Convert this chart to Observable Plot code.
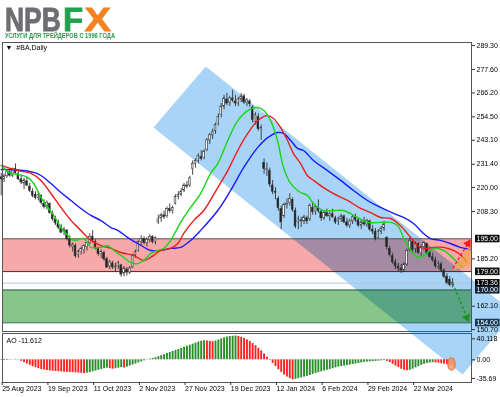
<!DOCTYPE html>
<html><head><meta charset="utf-8">
<script src="https://cdn.jsdelivr.net/npm/d3@7"></script>
<script src="https://cdn.jsdelivr.net/npm/@observablehq/plot@0.6"></script>
<style>
body{margin:0;background:#fff;}
#wrap{position:relative;width:500px;height:397px;overflow:hidden;background:#fff;font-family:"Liberation Sans",Arial,sans-serif;}
#logo{position:absolute;left:0;top:0;}
</style></head><body>
<div id="wrap">
<svg id="logo" width="140" height="40" font-family="Liberation Sans, Arial, sans-serif" font-weight="bold">
  <text transform="translate(5,30.5) scale(0.8,1)" font-size="33" fill="#6d6e71" stroke="#6d6e71" stroke-width="0.8">NPB</text>
  <text transform="translate(63,30.5)" font-size="33" fill="#22a14d" stroke="#22a14d" stroke-width="0.8">F</text>
  <text transform="translate(84.5,30.5) scale(1.2,1)" font-size="33" fill="#f58220" stroke="#f58220" stroke-width="0.8">X</text>
  <text x="5" y="37.8" font-size="7" fill="#22a14d" textLength="110" lengthAdjust="spacingAndGlyphs">УСЛУГИ ДЛЯ ТРЕЙДЕРОВ С 1996 ГОДА</text>
</svg>
</div>
<script>
// ---- x axis (bar index) ticks ----
const tickIdx = [0,16,32,48,64,80,96,112,128,144];
const tickLabels = ["25 Aug 2023","19 Sep 2023","11 Oct 2023","2 Nov 2023","27 Nov 2023","19 Dec 2023","12 Jan 2024","6 Feb 2024","29 Feb 2024","22 Mar 2024"];

// ---- daily OHLC (#BA) ----
const open = [225.0,224.0,225.5,227.5,225.8,229.0,226.5,224.0,222.0,223.0,220.5,218.0,216.5,215.0,216.0,212.0,210.5,212.0,207.0,204.5,202.5,200.5,198.5,199.0,195.0,191.0,191.5,187.0,188.5,189.5,191.0,193.0,196.0,193.5,190.5,187.5,188.0,185.0,181.5,183.0,181.0,181.5,182.0,178.0,180.0,178.5,181.0,187.0,189.0,193.5,195.0,193.0,194.5,196.0,193.5,203.0,205.0,206.5,206.0,209.5,208.5,212.0,215.5,216.5,218.5,221.0,221.0,229.0,231.5,233.0,235.0,234.5,238.5,243.0,245.5,247.5,251.0,255.5,259.5,263.0,261.5,263.5,262.0,261.0,263.0,264.5,261.5,262.0,259.0,252.0,254.5,248.5,232.0,228.5,228.0,221.0,218.0,214.5,209.5,206.0,211.5,212.5,214.0,208.5,203.0,204.0,203.5,205.0,204.5,210.0,208.0,210.0,208.0,205.0,207.5,206.0,207.0,205.0,203.5,204.5,206.0,203.0,201.5,203.5,205.5,204.0,201.5,203.0,202.0,203.5,199.5,198.5,195.5,198.5,200.0,195.5,190.0,186.5,183.5,181.5,180.5,179.5,182.5,189.5,193.5,190.0,192.5,188.0,191.0,192.5,188.0,186.0,184.5,181.5,182.5,179.5,176.5,175.0,172.5];
const high = [227.0,226.5,228.0,229.0,229.5,231.5,228.0,226.0,224.5,225.0,222.0,219.5,218.0,217.5,216.5,214.0,213.5,212.5,208.5,206.0,204.0,202.0,200.5,199.5,196.5,193.0,192.5,189.5,191.0,192.0,193.5,197.5,199.0,194.5,191.0,189.5,189.0,186.0,184.5,184.0,183.0,184.0,182.5,181.5,181.0,181.5,187.5,189.5,194.0,196.5,196.0,195.5,197.0,196.5,196.0,206.5,207.5,208.5,210.5,212.0,211.0,216.5,218.0,219.5,222.0,223.0,225.5,233.0,234.0,236.5,238.0,238.5,244.0,246.5,248.5,251.5,256.0,261.0,265.0,266.0,264.5,267.5,265.0,264.0,266.0,265.5,263.5,263.0,260.0,256.5,256.0,250.5,234.0,232.0,229.5,223.5,220.0,215.5,211.0,212.5,214.5,217.0,215.0,210.0,206.0,205.5,206.5,206.0,212.0,213.0,211.5,214.0,209.0,208.5,209.5,208.0,209.5,206.0,205.5,207.0,206.5,205.0,204.5,206.5,207.0,205.0,204.0,205.5,204.5,204.0,201.5,200.0,199.5,201.0,203.5,196.0,191.5,188.0,185.0,183.0,182.5,183.5,190.0,195.5,194.5,193.5,193.0,191.5,193.5,193.0,189.5,188.0,186.0,184.0,183.5,180.5,178.0,176.5,175.5];
const low = [216.0,222.5,224.5,225.0,224.8,226.5,223.5,221.5,219.0,220.5,217.5,215.0,214.0,213.5,211.5,209.5,209.0,207.0,203.5,201.5,199.5,197.5,196.5,194.0,190.5,188.5,185.5,185.5,187.0,187.5,189.0,192.0,193.0,189.5,186.5,185.5,184.0,180.5,180.0,180.0,178.5,180.0,176.3,176.5,176.8,177.5,180.5,185.5,188.5,191.5,192.0,191.0,193.0,192.5,192.0,202.0,203.0,204.5,205.0,207.5,207.0,211.5,214.0,215.5,217.5,219.5,220.0,226.0,229.5,231.5,233.0,233.5,237.5,241.0,243.5,246.0,250.0,254.0,258.0,260.0,259.5,261.5,259.5,259.5,261.5,260.5,259.5,259.0,251.5,250.5,247.5,243.0,226.5,225.5,220.0,216.5,214.0,208.5,199.5,205.0,209.5,211.0,208.0,200.0,199.5,200.5,202.0,202.0,203.5,206.5,206.5,207.5,203.5,204.0,205.5,203.5,205.0,202.0,201.5,203.0,202.5,200.5,200.0,202.0,203.0,200.5,199.5,201.0,200.5,198.5,197.0,194.0,195.0,197.0,198.5,189.5,186.0,182.5,180.0,179.0,178.0,178.5,181.5,188.5,188.5,188.0,187.5,186.5,189.5,187.0,185.5,183.5,180.5,180.0,178.5,175.5,172.5,171.5,171.0];
const close = [224.0,225.5,227.5,225.8,228.8,227.0,224.0,222.5,223.5,221.0,218.5,216.0,215.0,216.5,212.5,210.5,212.5,207.5,204.5,202.5,200.5,198.0,199.5,195.0,191.7,192.0,186.5,188.5,190.0,191.5,193.0,196.0,194.0,190.5,187.5,188.5,185.0,181.0,183.5,181.0,181.5,183.0,177.5,180.5,178.5,180.5,186.8,188.5,193.5,195.0,193.0,194.5,196.0,193.5,195.5,204.5,206.5,205.5,209.5,208.5,210.0,215.5,216.5,218.0,221.0,220.5,224.5,231.5,233.0,235.5,234.0,237.5,243.0,245.5,247.0,250.5,254.5,259.5,263.5,261.0,263.5,262.5,261.0,263.0,264.5,261.5,262.5,260.7,253.0,255.5,248.5,249.0,229.0,228.5,221.5,218.0,217.5,210.0,203.0,211.5,212.0,214.5,209.0,201.0,204.5,203.5,205.5,203.5,211.0,208.0,210.5,208.5,205.0,207.5,206.0,207.0,205.5,203.0,204.5,206.0,203.0,201.5,203.5,205.5,204.0,201.5,203.0,202.0,203.7,199.5,198.5,195.0,198.5,200.0,202.0,191.0,187.0,183.5,181.5,180.5,179.5,182.5,189.0,194.0,189.5,192.5,188.0,191.0,193.0,188.0,186.0,184.5,181.5,182.5,179.5,176.5,173.5,172.5,173.36];

// ---- Alligator lines (bar index, price) ----
const lipsX = [0,3.4,5.8,9.3,11.4,13.9,16.3,18.4,20.9,23.3,25.4,28.9,31.4,34.9,37.3,39.4,42.9,45.4,47.8,49.9,52.3,54.8,56.9,59.3,61.8,63.9,66.3,69.8,73.3,75.8,79.3,82.8,86.3,89.8,91.9,94.3,96.7,98.8,101.3,103.7,104.8,107.2,109.3,112.8,116.3,119.8,124.7,128.2,132.8,136.3,138.7,140.8,143.3,145.7,147.8,151.3,154.8,157.2,159.7,161.4];
const lipsY = [230.8,226.9,226.4,225.0,222.0,215.2,210.3,206.4,200.5,196.6,194.2,195.1,190.8,190.8,191.7,189.3,185.9,183.4,182.9,184.4,187.8,189.3,190.3,194.2,200.5,205.4,210.3,217.1,226.9,231.7,243.0,252.7,257.6,259.1,257.6,252.7,243.0,229.8,222.0,218.6,217.6,216.1,212.2,208.8,208.8,208.8,205.4,203.0,203.0,203.0,201.5,195.6,189.3,185.9,186.8,190.3,189.3,186.8,183.4,181.0];
const teethX = [0,5.8,10.4,13.9,17.4,20.9,24.4,27.9,31.4,34.9,38.4,41.9,46.4,49.9,52.3,55.8,59.3,61.8,63.9,67.4,70.9,75.8,79.3,82.8,86.3,89.8,93.3,95.3,97.8,100.2,102.3,104.8,107.2,109.3,112.8,116.3,121.2,125.8,129.3,132.8,136.3,139.7,143.3,145.7,147.8,151.3,154.8,158.3,161.8,162.8];
const teethY = [230.8,228.3,226.9,223.5,217.1,210.3,204.0,199.1,194.2,191.7,190.3,188.3,186.9,184.4,185.9,189.3,190.3,192.7,197.6,204.0,208.8,220.0,228.3,238.1,246.4,252.7,255.1,253.7,249.3,243.0,236.6,231.7,225.8,223.5,220.0,217.1,213.7,209.8,207.8,205.4,204.9,201.5,195.6,191.7,190.3,190.8,190.8,189.3,185.9,183.4];
const jawX = [0,5.8,11.4,13.9,17.4,20.9,24.4,27.9,31.4,34.9,38.4,40.8,44.3,47.8,52.3,55.8,59.3,62.8,66.3,69.8,75.8,80.3,84.9,89.8,93.3,96.7,98.8,101.3,103.7,105.8,109.3,114.2,118.8,123.3,128.2,132.8,137.3,140.8,144.3,147.8,150.3,153.7,157.2,160.7,164.2];
const jawY = [228.8,228.6,227.4,225.9,222.0,217.6,213.7,209.8,206.4,203.9,200.5,199.1,195.6,192.7,189.3,189.3,190.3,190.8,194.2,199.1,208.8,218.6,229.8,239.6,244.4,246.9,246.4,243.0,239.1,238.1,233.2,228.3,223.5,218.6,213.7,210.3,207.4,205.4,202.5,197.6,195.1,194.2,192.7,190.8,189.8];

// ---- Awesome Oscillator per bar ----
const ao = [-1.0,-1.5,-1.2,-0.8,0.4,1.0,-0.5,-3,-5.5,-8,-10.5,-13,-15,-17,-18.5,-19.5,-20.5,-21.2,-21.8,-22.3,-22.8,-23.2,-23.6,-24,-24.3,-24.6,-25,-25.4,-25.8,-26.2,-25.5,-24.5,-23,-21.5,-20,-18.5,-17,-16,-17,-18,-17,-16,-15,-15.5,-14,-12,-10,-8,-6,-4,-2,0.5,1.5,2.5,4,6,8,10,12,14,16,18,20,22,24,26,28,30,32,34,35.5,36.5,36,35,34.5,36,38,40,42,43.5,44.5,45,45.5,44.5,43,41,38,35,31,27,22,17,11,5,-1,-7,-13,-19,-24,-29,-33,-36,-38.5,-37.5,-36,-34.5,-33,-31.5,-30,-28,-26,-24.5,-23,-21.5,-20,-18.5,-17,-15.5,-14,-13,-12,-11,-10,-9,-8,-7,-6,-5,-4.5,-4,-3.5,-3,-2.5,-2,-1.5,-3,-5.5,-8.5,-12,-15,-18,-20,-21,-20,-18,-15.5,-13,-10.5,-8.5,-7,-6,-5.5,-5.8,-6.5,-7.5,-8.5,-9.5,-10.5,-11.612];

// ---- price scale labels ----
const priceTicks = [289.30,277.60,266.20,254.50,243.10,231.40,220.00,208.30,185.20,162.10,150.70];
const boxValues = [195.00,179.00,173.36,170.00,154.00];
const boxColors = ["#111111","#111111","#000000","#12263a","#143a55"];
const aoTicks = [40.118,0,-35.69];
const aoTickLabels = ["40.118","0.00","-35.69"];

// ---- drawn objects (bar index, price) ----
const channelX = [53.3,71.6,179.7,161.5,53.3];
const channelY = [249.3,279.1,158.6,128.8,249.3];
const zoneLo = [179,154];
const zoneHi = [195,170];
const zoneFill = ["#f7a8a8","#88c58a"];
const wedgeX = [158.0,164.3,164.3,158.0];
const wedgeY = [179.5,192.2,182.0,179.5];
const upArrow = [[158.0,180.5],[163.4,192.7]];
const downArrow = [[158.0,173.4],[163.0,156.6]];

const xDomain = [0.455,164.6];
const candles = open.map((o,i)=>({i,o,h:high[i],l:low[i],c:close[i]}));
const pts = (X,Y)=>X.map((x,k)=>({x,y:Y[k]}));
const zones = zoneLo.map((lo,k)=>({lo,hi:zoneHi[k],fill:zoneFill[k]}));
const font = "'Liberation Sans', Arial, sans-serif";

const main = Plot.plot({
  width:500, height:397,
  marginTop:42, marginBottom:66, marginLeft:2, marginRight:29,
  style:`position:absolute;left:0;top:0;background:transparent;overflow:visible;font-family:${font};font-size:7px;`,
  x:{domain:xDomain, axis:null},
  y:{domain:[149.76,290.8], label:null},
  marks:[
    Plot.line(pts(channelX,channelY),{x:"x",y:"y",fill:"#a8d4f8",stroke:"none"}),
    Plot.rect(zones,{x1:()=>xDomain[0],x2:()=>xDomain[1],y1:"lo",y2:"hi",fill:"fill",mixBlendMode:"multiply"}),
    Plot.ruleY([195],{stroke:"#5a5a5a"}),
    Plot.ruleY([179],{stroke:"#5a2020"}),
    Plot.ruleY([173.36],{stroke:"#b8c4d0"}),
    Plot.ruleY([170,154],{stroke:"#2d5f50"}),
    Plot.ruleX(candles,{x:"i",y1:"l",y2:"h",stroke:"#333",strokeWidth:0.9}),
    Plot.rect(candles,{x1:d=>d.i-0.3,x2:d=>d.i+0.3,y1:"o",y2:d=>(Math.abs(d.c-d.o)<0.3?d.o+0.3:d.c),fill:d=>d.c>=d.o?"#ffffff":"#222",stroke:"#333",strokeWidth:0.6}),
    Plot.line(pts(jawX,jawY),{x:"x",y:"y",stroke:"#1a1aff",strokeWidth:1.4,curve:"catmull-rom"}),
    Plot.line(pts(teethX,teethY),{x:"x",y:"y",stroke:"#ee1c1c",strokeWidth:1.4,curve:"catmull-rom"}),
    Plot.line(pts(lipsX,lipsY),{x:"x",y:"y",stroke:"#19d419",strokeWidth:1.4,curve:"catmull-rom"}),
    Plot.line(pts(wedgeX,wedgeY),{x:"x",y:"y",fill:"#f7a24a",fillOpacity:0.75,stroke:"none"}),
    Plot.link([0],{x1:()=>upArrow[0][0],y1:()=>upArrow[0][1],x2:()=>upArrow[1][0],y2:()=>upArrow[1][1],stroke:"#ff1a1a",strokeWidth:1.3,strokeDasharray:"3,2"}),
    Plot.dot([0],{x:()=>upArrow[1][0],y:()=>upArrow[1][1],symbol:"triangle",r:3.2,rotate:33,fill:"#ff1a1a",stroke:"none"}),
    Plot.link([0],{x1:()=>downArrow[0][0],y1:()=>downArrow[0][1],x2:()=>downArrow[1][0],y2:()=>downArrow[1][1],stroke:"#1f8f1f",strokeWidth:1.3,strokeDasharray:"3,2"}),
    Plot.dot([0],{x:()=>downArrow[1][0],y:()=>downArrow[1][1],symbol:"triangle",r:3.2,rotate:157,fill:"#1f8f1f",stroke:"none"}),
    Plot.frame({stroke:"#555"}),
    Plot.axisY(priceTicks,{anchor:"right",tickSize:3,tickPadding:2,tickFormat:d=>d.toFixed(2),fill:"#000",stroke:"#333"}),
    Plot.text(boxValues,{ariaDescription:"price boxes",y:d=>d,frameAnchor:"right",dx:5,textAnchor:"start",text:d=>d.toFixed(2),fill:"#fff"}),
    Plot.text(["▼  #BA,Daily"],{frameAnchor:"top-left",dx:3,dy:5,lineAnchor:"middle",textAnchor:"start",fill:"#000"})
  ]
});

const sub = Plot.plot({
  width:500, height:397,
  marginTop:333, marginBottom:15, marginLeft:2, marginRight:29,
  style:`position:absolute;left:0;top:0;background:transparent;overflow:visible;font-family:${font};font-size:7px;`,
  x:{domain:xDomain},
  y:{domain:[-43.4,50.3], label:null},
  marks:[
    Plot.ruleX(ao,{x:(d,i)=>i,y1:0,y2:d=>d,stroke:(d,i)=>(i>0&&d<ao[i-1])?"#ff2020":"#2a8c2a",strokeWidth:1.9}),
    Plot.dot([0],{x:()=>157.6,y:()=>-8,r:6,fill:"#f0a070",fillOpacity:0.85,stroke:"#e8804a",
      symbol:{draw(ctx,size){const r=Math.sqrt(size/Math.PI);const rx=r*0.6,ry=r,k=0.5523;ctx.moveTo(rx,0);ctx.bezierCurveTo(rx,ry*k,rx*k,ry,0,ry);ctx.bezierCurveTo(-rx*k,ry,-rx,ry*k,-rx,0);ctx.bezierCurveTo(-rx,-ry*k,-rx*k,-ry,0,-ry);ctx.bezierCurveTo(rx*k,-ry,rx,-ry*k,rx,0);ctx.closePath();}}}),
    Plot.frame({stroke:"#555"}),
    Plot.axisY(aoTicks,{anchor:"right",tickSize:3,tickPadding:2,tickFormat:d=>aoTickLabels[aoTicks.indexOf(d)],fill:"#000",stroke:"#333"}),
    Plot.axisX(tickIdx,{anchor:"bottom",tickSize:3,tickPadding:1,tickFormat:d=>tickLabels[tickIdx.indexOf(d)],textAnchor:"start",dx:1,fill:"#000",stroke:"#333"}),
    Plot.text(["AO -11.612"],{frameAnchor:"top-left",dx:4,dy:7,lineAnchor:"middle",textAnchor:"start",fill:"#000"})
  ]
});

const wrap = document.getElementById("wrap");
wrap.appendChild(main);
wrap.appendChild(sub);

// rectangles behind the boxed price labels
let boxTexts = main.querySelectorAll('g[aria-description="price boxes"] text');
if (!boxTexts.length) {
  boxTexts = Array.from(main.querySelectorAll('text')).filter(t => boxValues.map(v=>v.toFixed(2)).includes(t.textContent) && t.getAttribute("fill") !== "#000");
}
Array.from(boxTexts).forEach((t,k)=>{
  const bb = t.getBBox();
  const r = document.createElementNS("http://www.w3.org/2000/svg","rect");
  r.setAttribute("x", bb.x-1.5); r.setAttribute("y", bb.y-0.3);
  r.setAttribute("width", bb.width+3); r.setAttribute("height", bb.height+0.6);
  r.setAttribute("fill", boxColors[k]);
  const tr = t.getAttribute("transform"); if (tr) r.setAttribute("transform", tr);
  t.parentNode.insertBefore(r, t);
});
</script>
</body></html>
